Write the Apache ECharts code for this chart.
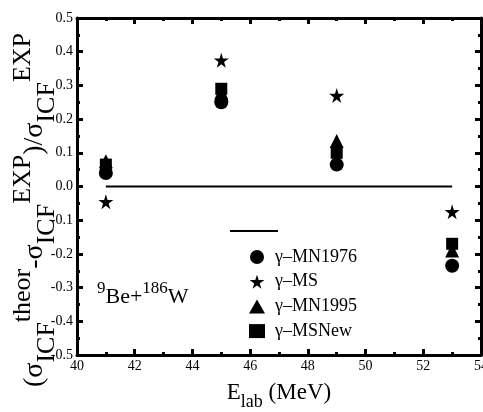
<!DOCTYPE html>
<html><head><meta charset="utf-8">
<script src="https://cdn.jsdelivr.net/npm/echarts@6/dist/echarts.min.js"></script>
<style>html,body{margin:0;padding:0;background:#fff}#c{width:483px;height:412px}</style>
</head><body><div id="c"></div>
<script>
const energies = [41, 45, 49, 53];
const mn1976 = [0.04, 0.25, 0.065, -0.235];
const ms = [-0.045, 0.375, 0.27, -0.075];
const mn1995 = [0.075, 0.28, 0.135, -0.19];
const msNew = [0.065, 0.29, 0.10, -0.17];
const zeroX = [41, 53];
const zeroY = [0, 0];
const seriesNames = ['γ–MN1976', 'γ–MS', 'γ–MN1995', 'γ–MSNew'];

const FONT = 'Liberation Serif';
const star = 'path://M50,0 L61,35 L98,35 L68,57 L79,91 L50,70 L21,91 L32,57 L2,35 L39,35 Z';
const pairs = (xs, ys) => xs.map((x, i) => [x, ys[i]]);

const chart = echarts.init(document.getElementById('c'), null, {renderer: 'canvas'});
const axisBase = {
  type: 'value',
  axisLine: {show: true, onZero: false, lineStyle: {color: '#000', width: 3}},
  axisTick: {show: true, inside: true, length: 6, lineStyle: {color: '#000', width: 3}},
  minorTick: {show: true, splitNumber: 2, length: 3, lineStyle: {color: '#000', width: 3}},
  splitLine: {show: false}
};
const xBase = Object.assign({}, axisBase, {min: 40, max: 54, interval: 2});
const yBase = Object.assign({}, axisBase, {min: -0.5, max: 0.5, interval: 0.1});
const solid = {color: '#000', opacity: 1};

chart.setOption({
  animation: false,
  backgroundColor: '#fff',
  textStyle: {fontFamily: FONT},
  grid: {left: 77, right: 2, top: 18, bottom: 57, containLabel: false, outerBoundsMode: 'none'},
  xAxis: [
    Object.assign({}, xBase, {
      position: 'bottom',
      axisLabel: {color: '#000', fontSize: 14, fontFamily: FONT, margin: 4},
      name: '{n|E}{s|lab}{n| (MeV)}',
      nameLocation: 'middle', nameGap: 26, nameMoveOverlap: false,
      nameTextStyle: {color: '#000', fontFamily: FONT, rich: {
        n: {fontSize: 23, fontFamily: FONT, color: '#000', verticalAlign: 'top', lineHeight: 30},
        s: {fontSize: 18, fontFamily: FONT, color: '#000', verticalAlign: 'bottom', lineHeight: 30}
      }}
    }),
    Object.assign({}, xBase, {position: 'top', axisLabel: {show: false}})
  ],
  yAxis: [
    Object.assign({}, yBase, {
      position: 'left',
      axisLabel: {color: '#000', fontSize: 14, fontFamily: FONT, margin: 4, formatter: v => v.toFixed(1)},
      name: '{n|(σ}{s|ICF}{p|theor}{n|-σ}{s|ICF}{p|EXP}{n|)/σ}{s|ICF}{p|EXP}',
      nameLocation: 'middle', nameGap: 17, nameRotate: 90, nameMoveOverlap: false,
      nameTextStyle: {color: '#000', fontFamily: FONT, padding: [0, 47, 0, 0], rich: {
        n: {fontSize: 28, fontFamily: FONT, color: '#000', verticalAlign: 'middle', lineHeight: 50},
        s: {fontSize: 26, fontFamily: FONT, color: '#000', verticalAlign: 'bottom', lineHeight: 50},
        p: {fontSize: 26, fontFamily: FONT, color: '#000', verticalAlign: 'top', lineHeight: 50}
      }}
    }),
    Object.assign({}, yBase, {position: 'right', axisLabel: {show: false}})
  ],
  legend: [
    {data: [{name: 'zero', icon: 'rect'}], left: 230, top: 230, padding: 0, itemWidth: 48, itemHeight: 2,
     formatter: () => '', textStyle: {fontSize: 1}},
    {data: seriesNames, orient: 'vertical', left: 249, top: 248, padding: 0, itemWidth: 16, itemHeight: 14, itemGap: 6.7,
     textStyle: {color: '#000', fontFamily: FONT, fontSize: 18, padding: [0, 0, 0, 5]}}
  ],
  graphic: [{
    type: 'text', left: 97, top: 280, z: 50,
    style: {text: '{p|9}{n|Be+}{p|186}{n|W}', fill: '#000', font: '22px ' + FONT, rich: {
      n: {fontSize: 22, fontFamily: FONT, fill: '#000', verticalAlign: 'bottom', lineHeight: 28},
      p: {fontSize: 17, fontFamily: FONT, fill: '#000', verticalAlign: 'top', lineHeight: 28}
    }}
  }],
  series: [
    {name: 'zero', type: 'line', data: pairs(zeroX, zeroY), symbol: 'none',
     lineStyle: {color: '#000', width: 2}, itemStyle: solid},
    {name: seriesNames[0], type: 'scatter', data: pairs(energies, mn1976), symbol: 'circle', symbolSize: 14,
     itemStyle: solid},
    {name: seriesNames[1], type: 'scatter', data: pairs(energies, ms), symbol: star, symbolSize: 15,
     itemStyle: solid},
    {name: seriesNames[2], type: 'scatter', data: pairs(energies, mn1995), symbol: 'triangle', symbolSize: 14,
     itemStyle: solid},
    {name: seriesNames[3], type: 'scatter', data: pairs(energies, msNew), symbol: 'rect', symbolSize: 12,
     itemStyle: solid}
  ]
});
</script></body></html>
